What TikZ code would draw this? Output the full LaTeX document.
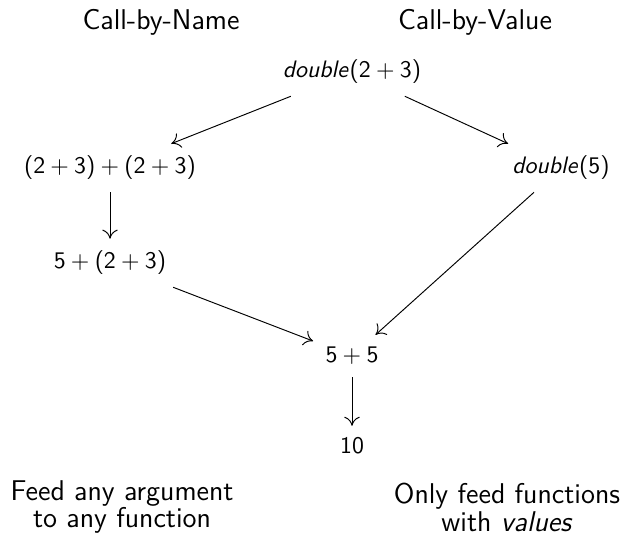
\documentclass[tikz,border=0pt]{standalone}
\usetikzlibrary{arrows.meta}
\DeclareSymbolFont{operators}{OT1}{cmss}{m}{n}
\DeclareMathAlphabet{\mathit}{OT1}{cmss}{m}{sl}
\renewcommand\familydefault{\sfdefault}
\begin{document}
\begin{tikzpicture}[x=0.42pt,y=-0.42pt,
  expr/.style={inner sep=5pt},
  head/.style={font=\large},
  note/.style={font=\large, align=center},
  arr/.style={-{Computer Modern Rightarrow[length=3.8pt,width=6.5pt]}}]
\useasboundingbox (0,0) rectangle (629,539);
\node[head] (hn) at (161,22) {Call-by-Name};
\node[head] (hv) at (475,22) {Call-by-Value};
\node[expr] (top) at (352,72) {$\mathit{double}(2+3)$};
\node[expr] (l1) at (110,168) {$(2+3)+(2+3)$};
\node[expr] (r1) at (561,168) {$\mathit{double}(5)$};
\node[expr] (l2) at (110,263) {$5+(2+3)$};
\node[expr] (m) at (352,356) {$5+5$};
\node[expr] (b) at (352,446) {$10$};
\node[note] (nl) at (122,507) {Feed any argument\\[-2.3pt]to any function};
\node[note] (nr) at (507,507) {Only feed functions\\[-2.3pt]with \textit{values}};
\draw[arr] (top) -- (l1);
\draw[arr] (top) -- (r1);
\draw[arr] (l1) -- (l2);
\draw[arr] (l2) -- (m);
\draw[arr] (r1) -- (m);
\draw[arr] (m) -- (b);
\end{tikzpicture}
\end{document}
